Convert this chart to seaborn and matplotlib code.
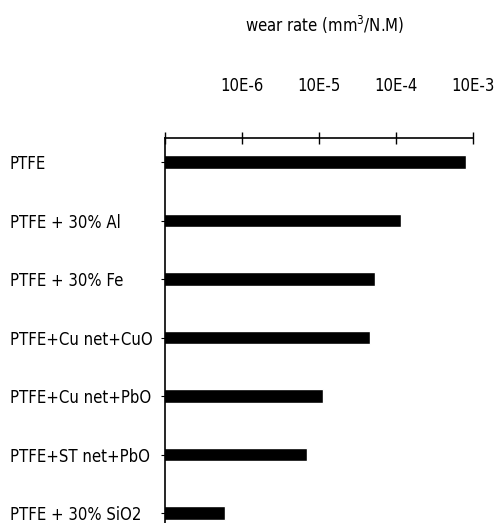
import matplotlib
matplotlib.use("Agg")
import matplotlib.pyplot as plt
import seaborn as sns
import pandas as pd
from matplotlib import font_manager

materials = ["PTFE", "PTFE + 30% Al", "PTFE + 30% Fe", "PTFE+Cu net+CuO",
             "PTFE+Cu net+PbO", "PTFE+ST net+PbO", "PTFE + 30% SiO2"]
wear_rate = [8.3e-4, 1.18e-4, 5.3e-5, 4.6e-5, 1.14e-5, 7.1e-6, 6.1e-7]
tick_values = [1e-7, 1e-6, 1e-5, 1e-4, 1e-3]
tick_labels = ["", "10E-6", "10E-5", "10E-4", "10E-3"]
title = "wear rate (mm$^{3}$/N.M)"

sns.set_theme(style="white")
ents = font_manager.fontManager.ttflist
names = {f.name for f in ents}
has_cond = any(f.name == "DejaVu Sans" and str(f.stretch) in ("condensed", "semi-condensed") for f in ents)
if "Liberation Sans Narrow" in names:
    fam, stretch = "Liberation Sans Narrow", "normal"
elif has_cond:
    fam, stretch = "DejaVu Sans", "condensed"
else:
    fam, stretch = "DejaVu Sans", "normal"
plt.rcParams["font.family"] = [fam, "DejaVu Sans"]
plt.rcParams["font.stretch"] = stretch
plt.rcParams["mathtext.fontset"] = "custom"
plt.rcParams["mathtext.rm"] = fam
plt.rcParams["text.color"] = "black"
plt.rcParams["xtick.color"] = "black"
plt.rcParams["ytick.color"] = "black"

df = pd.DataFrame({"material": materials, "wear": wear_rate})

W, H = 498, 523
fs = 12 if fam != "DejaVu Sans" or stretch == "condensed" else 11
fig = plt.figure(figsize=(W / 100, H / 100), dpi=100)
left, right, top, bottom = 165, 472.7, 138, 523
ax = fig.add_axes([left / W, 1 - bottom / H, (right - left) / W, (bottom - top) / H])
ax.set_xscale("log")
sns.barplot(data=df, x="wear", y="material", orient="h", color="black",
            width=0.23, ax=ax, saturation=1)
ax.set_xlim(1e-7, 1e-3)
ax.set_ylim(6.17, -0.41)

ax.xaxis.tick_top()
ax.set_xticks(tick_values)
ax.set_xticklabels(tick_labels)
ax.xaxis.set_minor_locator(matplotlib.ticker.NullLocator())
ax.tick_params(axis="x", direction="inout", length=8, width=1, color="black",
               labelsize=fs, pad=27, top=True, bottom=False, labelcolor="black")
ax.tick_params(axis="y", direction="out", length=3, width=0.8, color="black",
               left=True, labelsize=fs, pad=(165 - 11 - 3) * 0.72, labelcolor="black")
for lbl in ax.get_yticklabels():
    lbl.set_horizontalalignment("left")

ax.set_xlabel("")
ax.set_ylabel("")
for s in ["right", "bottom"]:
    ax.spines[s].set_visible(False)
for s in ["top", "left"]:
    ax.spines[s].set_color("black")
    ax.spines[s].set_linewidth(1.2)

fig.text(325 / W, 1 - 25 / H, title, ha="center", va="center", fontsize=fs, color="black")

fig.savefig("out.png", dpi=100, facecolor="white")
